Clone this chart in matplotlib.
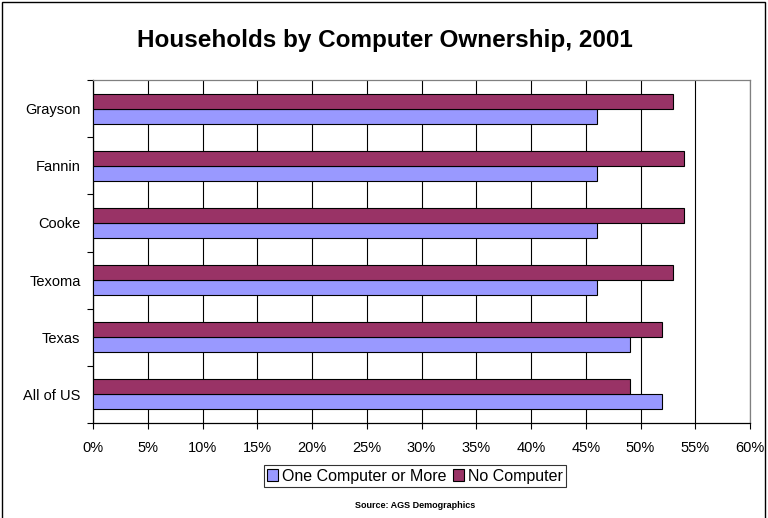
import matplotlib
matplotlib.use("Agg")
import matplotlib.pyplot as plt
from matplotlib.patches import Rectangle, Patch
import numpy as np

plt.rcParams['font.family'] = ['Liberation Sans', 'DejaVu Sans']

regions = ["All of US", "Texas", "Texoma", "Cooke", "Fannin", "Grayson"]
one_or_more = [52, 49, 46, 46, 46, 46]
no_computer = [49, 52, 53, 54, 54, 53]
x_ticks = list(range(0, 61, 5))
x_tick_labels = [f"{t}%" for t in x_ticks]

blue = "#9999FF"
plum = "#993366"

fig = plt.figure(figsize=(7.68, 5.18), dpi=100)
ax = fig.add_axes([93 / 768, 1 - 423 / 518, 657 / 768, 343 / 518])

y = np.arange(len(regions))
h = 0.263
ax.barh(y - h / 2, one_or_more, height=h, color=blue, edgecolor="black",
        linewidth=0.8, label="One Computer or More", zorder=3)
ax.barh(y + h / 2, no_computer, height=h, color=plum, edgecolor="black",
        linewidth=0.8, label="No Computer", zorder=3)

ax.set_xlim(0, 60)
ax.set_ylim(-0.5, len(regions) - 0.5)
ax.set_xticks(x_ticks)
ax.set_xticklabels(x_tick_labels, fontsize=10.5)
ax.set_yticks(y)
ax.set_yticklabels(regions, fontsize=10.5)
ax.tick_params(axis="y", length=0, pad=9)
ax.set_yticks(np.arange(-0.5, len(regions), 1), minor=True)
ax.tick_params(axis="y", which="minor", length=4, direction="out", width=0.8)
ax.tick_params(axis="x", length=4, direction="out", width=0.8, pad=9)

ax.grid(axis="x", color="black", linewidth=0.8, zorder=0)
ax.set_axisbelow(True)
for s in ("left", "bottom"):
    ax.spines[s].set_color("black")
    ax.spines[s].set_linewidth(0.9)
for s in ("top", "right"):
    ax.spines[s].set_color("#808080")
    ax.spines[s].set_linewidth(0.9)

fig.text(385 / 768, 1 - 40 / 518, "Households by Computer Ownership, 2001",
         ha="center", va="center", fontsize=17.5, fontweight="bold")

handles = [Patch(facecolor=blue, edgecolor="black", linewidth=0.8, label="One Computer or More"),
           Patch(facecolor=plum, edgecolor="black", linewidth=0.8, label="No Computer")]
leg = fig.legend(handles=handles, loc="center", bbox_to_anchor=(415 / 768, 1 - 476 / 518),
                 ncol=2, fontsize=11.5, frameon=True, fancybox=False, handlelength=0.7,
                 handleheight=0.7, handletextpad=0.25, columnspacing=0.4,
                 borderpad=0.2, borderaxespad=0)
leg.get_frame().set_edgecolor("black")
leg.get_frame().set_linewidth(0.8)

fig.text(415 / 768, 1 - 505 / 518, "Source: AGS Demographics",
         ha="center", va="center", fontsize=6.5, fontweight="bold")

fig.patches.append(Rectangle((2 / 768, -0.05), 763 / 768, 1.05 - 2 / 518,
                             transform=fig.transFigure, fill=False,
                             edgecolor="black", linewidth=1.0))

fig.savefig("out.png", dpi=100)
